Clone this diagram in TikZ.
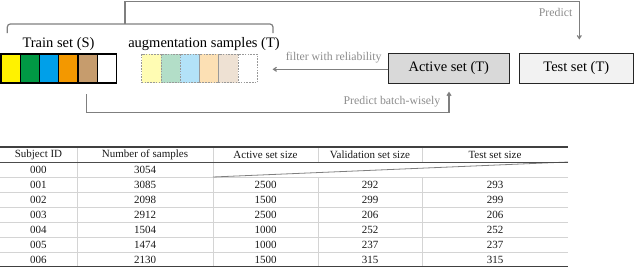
\documentclass[tikz,border=0pt]{standalone}
\usepackage{fontspec}
\setmainfont{Liberation Serif}
\usetikzlibrary{arrows.meta}
\definecolor{cyel}{HTML}{FFF200}
\definecolor{cgrn}{HTML}{009944}
\definecolor{cblu}{HTML}{00A0E9}
\definecolor{corg}{HTML}{F39800}
\definecolor{ctan}{HTML}{C69C6D}
\definecolor{lyel}{HTML}{FFFCB3}
\definecolor{lgrn}{HTML}{B3DEC8}
\definecolor{lblu}{HTML}{B3E2F8}
\definecolor{lorg}{HTML}{FCE0B4}
\definecolor{ltan}{HTML}{EEE1D3}
\definecolor{linegray}{HTML}{7F7F7F}
\definecolor{labgray}{HTML}{8C8C8C}
\definecolor{rulegray}{HTML}{D4D4D4}
\definecolor{activefill}{HTML}{D9D9D9}
\definecolor{testfill}{HTML}{F2F2F2}
\begin{document}
\begin{tikzpicture}[x=1pt,y=-1pt,
  cell/.style={draw=black, line width=1.2pt, minimum width=19.25pt, minimum height=29pt, inner sep=0pt, outer sep=0pt, anchor=north west},
  augcell/.style={draw=gray!80, line width=0.8pt, dash pattern=on 1.6pt off 1.2pt, minimum width=19.27pt, minimum height=28.7pt, inner sep=0pt, outer sep=0pt, anchor=north west},
  bigtext/.style={font=\fontsize{14.5}{17}\selectfont, inner sep=0pt},
  setbox/.style={draw=black!85, line width=1.2pt, minimum height=30pt, inner sep=0pt, outer sep=0pt, anchor=north west, font=\fontsize{14.5}{17}\selectfont},
  conn/.style={draw=linegray, line width=1.2pt},
  arr/.style={-{Straight Barb[length=3pt,width=4pt]}},
  glabel/.style={text=labgray, font=\fontsize{11.8}{14}\selectfont, inner sep=0pt},
  tcell/.style={font=\fontsize{11}{13}\selectfont, inner sep=0pt, text=black!90},
  thickrule/.style={draw=black!75, line width=1.4pt},
  midrule/.style={draw=black!70, line width=0.8pt},
  thinrule/.style={draw=rulegray, line width=0.7pt}
]
\useasboundingbox (0,0) rectangle (640,268);

% Train set cells
\node[cell, fill=cyel] (t1) at (1,54) {};
\node[cell, fill=cgrn] (t2) at (20.25,54) {};
\node[cell, fill=cblu] (t3) at (39.5,54) {};
\node[cell, fill=corg] (t4) at (58.75,54) {};
\node[cell, fill=ctan] (t5) at (78,54) {};
\node[cell, fill=white] (t6) at (97.25,54) {};

% Augmentation cells
\node[augcell, fill=lyel] (a1) at (141.7,54) {};
\node[augcell, fill=lgrn] (a2) at (160.97,54) {};
\node[augcell, fill=lblu] (a3) at (180.24,54) {};
\node[augcell, fill=lorg] (a4) at (199.51,54) {};
\node[augcell, fill=ltan] (a5) at (218.78,54) {};
\node[augcell, fill=white] (a6) at (238.05,54) {};

\node[bigtext] (trainlab) at (58.5,44.5) {Train set (S)};
\node[bigtext] (auglab) at (204,44.5) {augmentation samples (T)};

% Active and Test sets
\node[setbox, fill=activefill, minimum width=121pt] (active) at (388.3,53.3) {Active set (T)};
\node[setbox, fill=testfill, minimum width=114pt] (test) at (519.3,53.3) {Test set (T)};

% bracket
\coordinate (bl) at (7.3,33);
\coordinate (br) at (273,33);
\coordinate (bm) at (125,24);
\coordinate (top1) at (125,1.5);
\coordinate (testin) at (579.3,39.5);
\draw[conn, rounded corners=3pt] (bl) |- (br |- bm) -- (br);
\draw[conn, arr] (bm) -- (top1) -| (testin);
\node[glabel, anchor=east] (predlab) at (572.5,12) {Predict};

% filter arrow
\coordinate (filterend) at (272.5,69.3);
\draw[conn, arr] (active.west |- filterend) -- (filterend);
\node[glabel, anchor=south east] (filtlab) at (381.7,63) {filter with reliability};

% predict batch-wisely
\coordinate (bs) at (86.7,94);
\coordinate (bb) at (449,112.7);
\coordinate (bt) at (449,91.7);
\draw[conn, arr] (bs) |- (bb) -- (bt);
\node[glabel, anchor=east] (pbwlab) at (440.5,102) {Predict batch-wisely};

% ---------- table ----------
% thin horizontal rules
\foreach \yy in {177,192,207,222,237,252} {
  \draw[thinrule] (0,\yy) -- (568,\yy);
}
% vertical rules
\draw[thinrule] (77,147) -- (77,266.5);
\draw[thinrule] (213,147) -- (213,266.5);
\draw[thinrule] (318,147) -- (318,162);
\draw[thinrule] (318,177) -- (318,266.5);
\draw[thinrule] (422,147) -- (422,162);
\draw[thinrule] (422,177) -- (422,266.5);
% diagonal in merged cell
\draw[draw=linegray, line width=0.8pt] (213,177) -- (568,162);
% main rules
\draw[thickrule] (0,147) -- (568,147);
\draw[midrule] (0,162) -- (568,162);
\draw[thickrule] (0,266.5) -- (568,266.5);

% header
\node[tcell] (h1) at (38.5,154.5) {Subject ID};
\node[tcell] (h2) at (145,154.5) {Number of samples};
\node[tcell] (h3) at (265.5,154.5) {Active set size};
\node[tcell] (h4) at (370,154.5) {Validation set size};
\node[tcell] (h5) at (495,154.5) {Test set size};

% rows
\node[tcell] (r0a) at (38.5,169.5) {000};
\node[tcell] (r0b) at (145,169.5) {3054};

\node[tcell] (r1a) at (38.5,184.5) {001};
\node[tcell] (r1b) at (145,184.5) {3085};
\node[tcell] (r1c) at (265.5,184.5) {2500};
\node[tcell] (r1d) at (370,184.5) {292};
\node[tcell] (r1e) at (495,184.5) {293};

\node[tcell] (r2a) at (38.5,199.5) {002};
\node[tcell] (r2b) at (145,199.5) {2098};
\node[tcell] (r2c) at (265.5,199.5) {1500};
\node[tcell] (r2d) at (370,199.5) {299};
\node[tcell] (r2e) at (495,199.5) {299};

\node[tcell] (r3a) at (38.5,214.5) {003};
\node[tcell] (r3b) at (145,214.5) {2912};
\node[tcell] (r3c) at (265.5,214.5) {2500};
\node[tcell] (r3d) at (370,214.5) {206};
\node[tcell] (r3e) at (495,214.5) {206};

\node[tcell] (r4a) at (38.5,229.5) {004};
\node[tcell] (r4b) at (145,229.5) {1504};
\node[tcell] (r4c) at (265.5,229.5) {1000};
\node[tcell] (r4d) at (370,229.5) {252};
\node[tcell] (r4e) at (495,229.5) {252};

\node[tcell] (r5a) at (38.5,244.5) {005};
\node[tcell] (r5b) at (145,244.5) {1474};
\node[tcell] (r5c) at (265.5,244.5) {1000};
\node[tcell] (r5d) at (370,244.5) {237};
\node[tcell] (r5e) at (495,244.5) {237};

\node[tcell] (r6a) at (38.5,259.5) {006};
\node[tcell] (r6b) at (145,259.5) {2130};
\node[tcell] (r6c) at (265.5,259.5) {1500};
\node[tcell] (r6d) at (370,259.5) {315};
\node[tcell] (r6e) at (495,259.5) {315};
\end{tikzpicture}
\end{document}
